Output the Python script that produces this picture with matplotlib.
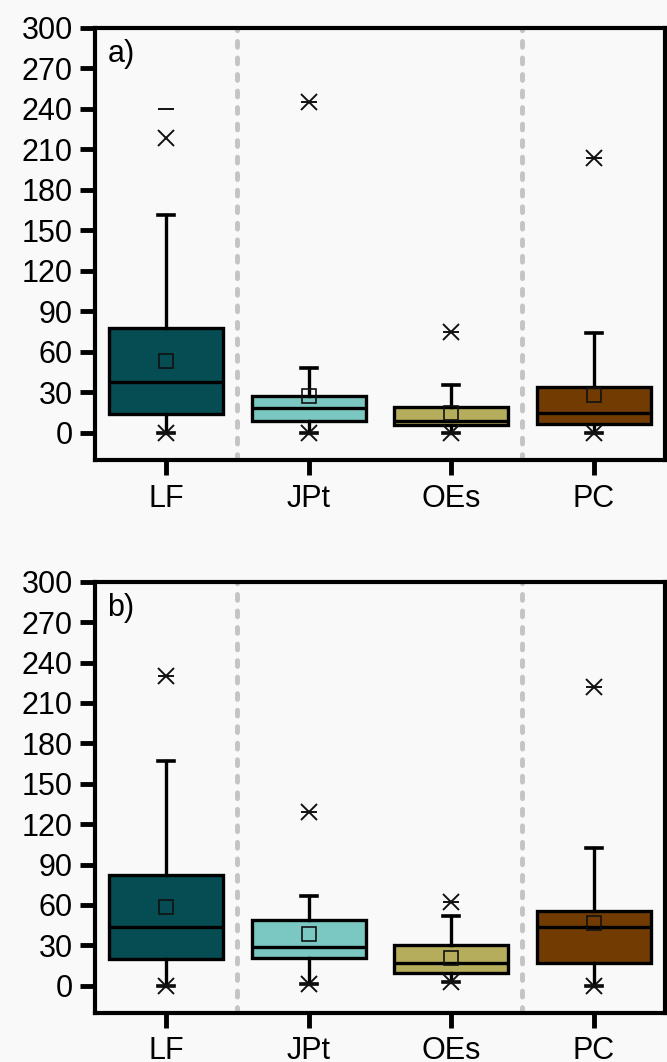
import matplotlib
matplotlib.use("Agg")
import matplotlib.pyplot as plt

plt.rcParams['font.family'] = ['Liberation Sans', 'DejaVu Sans']

groups = ["LF", "JPt", "OEs", "PC"]
colors = ["#064c53", "#7ac8c1", "#b5ad5b", "#723b02"]
yticks = [0, 30, 60, 90, 120, 150, 180, 210, 240, 270, 300]

# panel a)
q1_a = [14.4, 8.9, 6.2, 7.0]
med_a = [37.4, 18.8, 8.9, 14.8]
q3_a = [77.5, 27.5, 19.3, 34.2]
mean_a = [53.2, 27.2, 14.8, 28.0]
whislo_a = [0, 0, 0, 0]
whishi_a = [161.6, 47.8, 35.4, 73.8]
p1_a = [0, 0, 0, 0]
p99_a = [218.5, 245.5, 75.0, 203.7]
min_a = [0, 0, 0, 0]
max_a = [240.0, 245.5, 75.0, 203.7]

# panel b)
q1_b = [19.8, 20.6, 9.2, 16.6]
med_b = [43.4, 28.5, 16.6, 43.4]
q3_b = [82.4, 48.9, 30.3, 55.8]
mean_b = [58.3, 38.4, 21.0, 46.4]
whislo_b = [0, 1, 2.5, 0]
whishi_b = [166.9, 67.0, 51.6, 102.5]
p1_b = [0, 1, 2.5, 0]
p99_b = [229.9, 129.0, 62.5, 222.0]
min_b = [0, 1, 2.5, 0]
max_b = [229.9, 129.0, 62.5, 222.0]


def draw_panel(ax, label, q1, med, q3, mean, whislo, whishi, p1, p99, mn, mx):
    pos = list(range(1, len(groups) + 1))
    stats = []
    for i, g in enumerate(groups):
        stats.append(dict(label=g, q1=q1[i], med=med[i], q3=q3[i], mean=mean[i],
                          whislo=whislo[i], whishi=whishi[i], fliers=[]))
    bp = ax.bxp(stats, positions=pos, widths=0.8, capwidths=0.11, patch_artist=True,
                showmeans=True, showfliers=False,
                boxprops=dict(linewidth=2.4, edgecolor="black"),
                medianprops=dict(color="black", linewidth=2.4),
                whiskerprops=dict(color="black", linewidth=2.4),
                capprops=dict(color="black", linewidth=2.6),
                meanprops=dict(marker="s", markerfacecolor="none", markeredgecolor="#111111",
                               markeredgewidth=1.2, markersize=10))
    for patch, c in zip(bp["boxes"], colors):
        patch.set_facecolor(c)
    ax.plot(pos, p99, linestyle="none", marker="x", ms=12, mew=1.4, color="#111111")
    ax.plot(pos, p1, linestyle="none", marker="x", ms=12, mew=1.4, color="#111111")
    ax.plot(pos, mx, linestyle="none", marker="_", ms=12, mew=1.4, color="#111111")
    ax.plot(pos, mn, linestyle="none", marker="_", ms=12, mew=1.4, color="#111111")
    for xs in [1.5, 3.5]:
        ax.axvline(xs, color="#c4c4c4", linewidth=3.5, linestyle=(0, (1.2, 2.2)),
                   dash_capstyle="round", zorder=0)
    ax.set_xlim(0.5, 4.5)
    ax.set_ylim(-20, 300)
    ax.set_yticks(yticks)
    ax.set_xticks(pos)
    ax.set_xticklabels(groups)
    ax.set_facecolor("#f9f9f9")
    for s in ax.spines.values():
        s.set_linewidth(3)
    ax.tick_params(axis="both", direction="out", length=11, width=3.5, labelsize=22)
    ax.tick_params(axis="x", pad=6)
    ax.tick_params(axis="y", pad=5)
    ax.text(0.022, 0.975, label, transform=ax.transAxes, fontsize=22, va="top", ha="left")


fig = plt.figure(figsize=(6.67, 10.62), dpi=100, facecolor="#f9f9f9")
ax_a = fig.add_axes([0.1424, 0.5669, 0.8546, 0.4068])
ax_b = fig.add_axes([0.1424, 0.0464, 0.8546, 0.4058])
draw_panel(ax_a, "a)", q1_a, med_a, q3_a, mean_a, whislo_a, whishi_a, p1_a, p99_a, min_a, max_a)
draw_panel(ax_b, "b)", q1_b, med_b, q3_b, mean_b, whislo_b, whishi_b, p1_b, p99_b, min_b, max_b)

fig.savefig("out.png", dpi=100, facecolor=fig.get_facecolor())
